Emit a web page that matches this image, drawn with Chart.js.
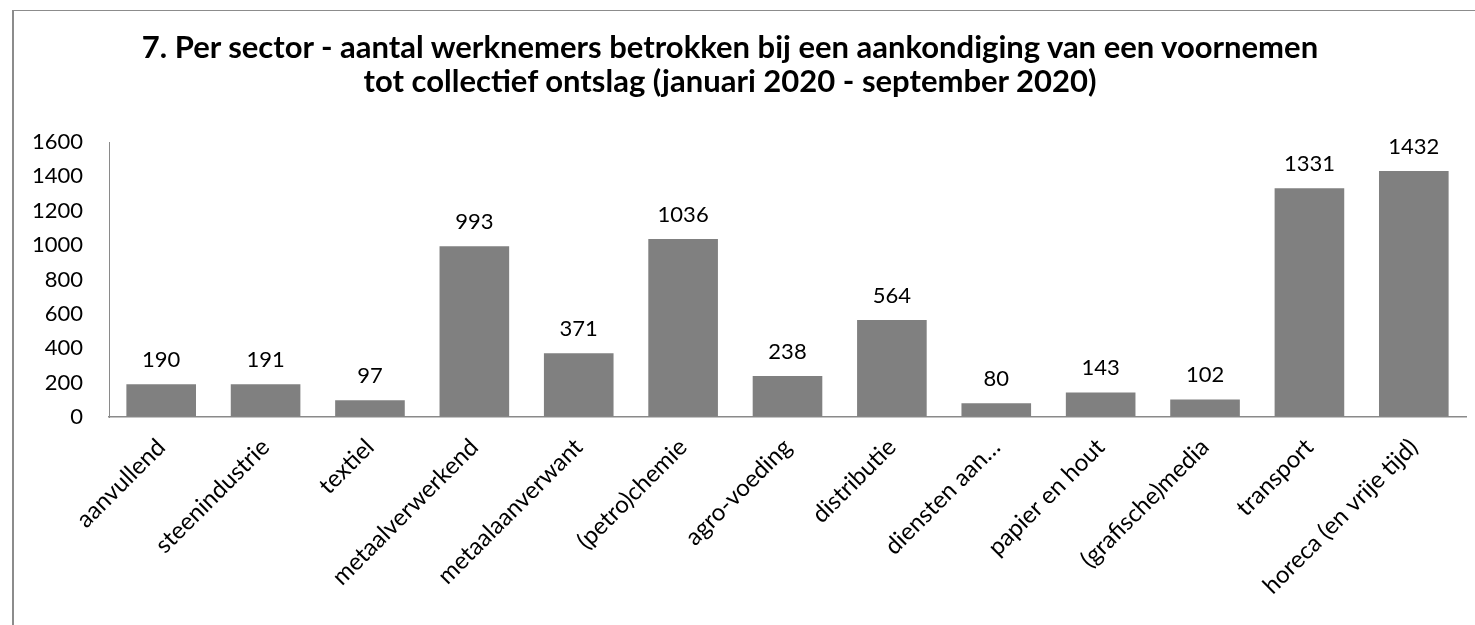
<!DOCTYPE html>
<html>
<head>
<meta charset="utf-8">
<script src="https://cdn.jsdelivr.net/npm/chart.js@4"></script>
<style>
  html, body { margin:0; padding:0; background:#fff; width:1475px; height:625px; overflow:hidden; }
  #wrap { position:absolute; left:0; top:0; width:1475px; height:625px; }
  #frame { position:absolute; left:12px; top:10px; width:1500px; height:700px; border-top:1px solid #8c8c8c; border-left:2px solid #8c8c8c; box-sizing:border-box; pointer-events:none; }
  #title { position:absolute; left:0; width:1460px; top:29px; text-align:center; font-family:Lato, "Open Sans", sans-serif; font-weight:bold; font-size:31px; line-height:34px; color:#000; }
  canvas { position:absolute; left:0; top:0; }
</style>
</head>
<body>
<div id="wrap">
  <canvas id="c" width="1475" height="625"></canvas>
  <div id="frame"></div>
  <div id="title">7. Per sector - aantal werknemers betrokken bij een aankondiging van een voornemen<br>tot collectief ontslag (januari 2020 - september 2020)</div>
</div>
<script>
const categories = ["aanvullend","steenindustrie","textiel","metaalverwerkend","metaalaanverwant","(petro)chemie","agro-voeding","distributie","diensten aan…","papier en hout","(grafische)media","transport","horeca (en vrije tijd)"];
const werknemers = [190,191,97,993,371,1036,238,564,80,143,102,1331,1432];
const yTicks = [0,200,400,600,800,1000,1200,1400,1600];

const FONT = "Lato, 'Open Sans', sans-serif";

const valueLabels = {
  id: 'valueLabels',
  afterDatasetsDraw(chart) {
    const ctx = chart.ctx;
    const meta = chart.getDatasetMeta(0);
    ctx.save();
    ctx.font = "22px " + FONT;
    ctx.fillStyle = "#000";
    ctx.textAlign = "center";
    ctx.textBaseline = "alphabetic";
    meta.data.forEach((bar, i) => {
      ctx.fillText(String(werknemers[i]), bar.x, bar.y - 17);
    });
    ctx.restore();
  }
};

new Chart(document.getElementById('c'), {
  type: 'bar',
  data: {
    labels: categories,
    datasets: [{
      data: werknemers,
      backgroundColor: '#808080',
      borderWidth: 0,
      categoryPercentage: 1.0,
      barPercentage: 0.667
    }]
  },
  options: {
    responsive: false,
    animation: false,
    devicePixelRatio: 1,
    layout: { padding: { top: 142, right: 9, left: 0, bottom: 0 } },
    plugins: { legend: { display: false }, title: { display: false }, tooltip: { enabled: false } },
    scales: {
      x: {
        grid: { display: true, drawOnChartArea: false, drawTicks: false },
        border: { display: true, color: '#8a8a8a', width: 1.5 },
        ticks: { color: '#000', font: { family: FONT, size: 24 }, maxRotation: 45, minRotation: 45, autoSkip: false, padding: 16 },
        afterFit(scale) { scale.height = 208; }
      },
      y: {
        min: 0, max: 1600,
        afterBuildTicks(scale) { scale.ticks = yTicks.map(v => ({ value: v })); },
        grid: { display: true, drawOnChartArea: false, drawTicks: false },
        border: { display: true, color: '#8a8a8a', width: 1 },
        ticks: { color: '#000', font: { family: FONT, size: 22 }, padding: 26, callback: v => String(v) },
        afterFit(scale) { scale.width = 109; }
      }
    }
  },
  plugins: [valueLabels]
});
</script>
</body>
</html>
